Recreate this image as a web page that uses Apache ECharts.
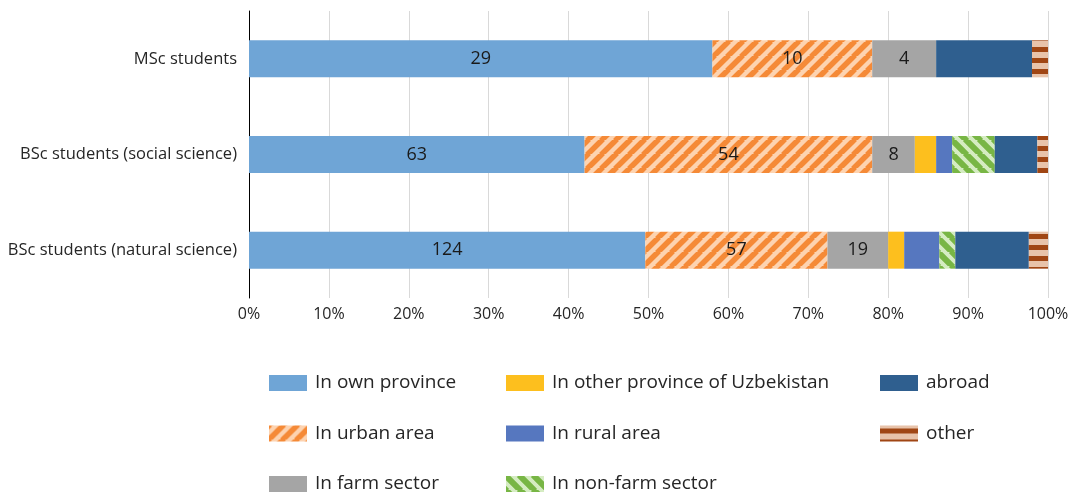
<!DOCTYPE html>
<html>
<head>
<meta charset="utf-8">
<script src="https://cdn.jsdelivr.net/npm/echarts@6/dist/echarts.min.js"></script>
<style>
  html, body { margin: 0; padding: 0; background: #fff; }
  #chart { width: 1080px; height: 495px; }
</style>
</head>
<body>
<div id="chart"></div>
<script>
// Student groups (top to bottom)
const categories = ['MSc students', 'BSc students (social science)', 'BSc students (natural science)'];

// Number of graduates per destination, one array per destination, in category order
const ownProvince   = [29, 63, 124];
const urbanArea     = [10, 54, 57];
const farmSector    = [4, 8, 19];
const otherProvince = [0, 4, 5];
const ruralArea     = [0, 3, 11];
const nonFarm       = [0, 8, 5];
const abroad        = [6, 8, 23];
const other         = [1, 2, 6];

const seriesNames = ['In own province', 'In urban area', 'In farm sector',
  'In other province of Uzbekistan', 'In rural area', 'In non-farm sector',
  'abroad', 'other'];

const percentTicks = [0, 10, 20, 30, 40, 50, 60, 70, 80, 90, 100];

const FONT = '"Open Sans", "Noto Sans", sans-serif';

// Striped fills drawn on small canvases
function diagonal(fg, bg, size, width, backslash) {
  const c = document.createElement('canvas');
  c.width = size; c.height = size;
  const ctx = c.getContext('2d');
  ctx.fillStyle = bg; ctx.fillRect(0, 0, size, size);
  ctx.strokeStyle = fg; ctx.lineWidth = width;
  ctx.beginPath();
  for (let k = -size; k <= size; k += size) {
    if (backslash) {
      ctx.moveTo(k - 1, -1); ctx.lineTo(k + size + 1, size + 1);
    } else {
      ctx.moveTo(k - 1, size + 1); ctx.lineTo(k + size + 1, -1);
    }
  }
  ctx.stroke();
  return { image: c, repeat: 'repeat' };
}
function horizontal(fg, bg, period, band) {
  const c = document.createElement('canvas');
  c.width = period; c.height = period;
  const ctx = c.getContext('2d');
  ctx.fillStyle = bg; ctx.fillRect(0, 0, period, period);
  ctx.fillStyle = fg; ctx.fillRect(0, 3, period, band);
  return { image: c, repeat: 'repeat' };
}

const fills = [
  '#6fa5d6',
  diagonal('#f58a37', '#fdd3b0', 14, 5.5, false),
  '#a5a5a5',
  '#fdbf1e',
  '#5677bf',
  diagonal('#78b645', '#d5ecc2', 14, 6, true),
  '#2f5f8f',
  horizontal('#a04614', '#e8c3aa', 11, 5)
];

const counts = [ownProvince, urbanArea, farmSector, otherProvince, ruralArea, nonFarm, abroad, other];
const totals = categories.map((_, i) => counts.reduce((s, arr) => s + arr[i], 0));
const labelled = [true, true, true, false, false, false, false, false];

const series = counts.map((arr, si) => ({
  name: seriesNames[si],
  type: 'bar',
  stack: 'share',
  barWidth: 37,
  itemStyle: { color: fills[si] },
  label: {
    show: labelled[si],
    position: 'inside',
    color: '#1a1a1a',
    fontFamily: FONT,
    fontSize: 18,
    formatter: p => p.data.count
  },
  emphasis: { disabled: true },
  data: arr.map((v, i) => ({ value: v / totals[i] * 100, count: v }))
}));

function legendColumn(left, names) {
  return {
    show: true,
    orient: 'vertical',
    left: left,
    top: 373,
    padding: 0,
    itemWidth: 38,
    itemHeight: 16,
    itemGap: 30.5,
    icon: 'rect',
    selectedMode: false,
    textStyle: { fontFamily: FONT, fontSize: 19, color: '#262626', lineHeight: 20, padding: [0, 0, 0, 3] },
    data: names
  };
}

const chart = echarts.init(document.getElementById('chart'));
chart.setOption({
  animation: false,
  backgroundColor: '#fff',
  grid: { left: 249, right: 32, top: 11, bottom: 197, containLabel: false },
  xAxis: {
    type: 'value',
    min: percentTicks[0],
    max: percentTicks[percentTicks.length - 1],
    interval: percentTicks[1] - percentTicks[0],
    axisLine: { show: false },
    axisTick: { show: false },
    splitLine: { show: true, lineStyle: { color: '#d9d9d9', width: 1 } },
    axisLabel: { formatter: '{value}%', fontFamily: FONT, fontSize: 16, color: '#262626', margin: 8 }
  },
  yAxis: {
    type: 'category',
    inverse: true,
    data: categories,
    axisLine: { show: true, lineStyle: { color: '#000', width: 1 } },
    axisTick: { show: false },
    axisLabel: { fontFamily: FONT, fontSize: 16.5, color: '#262626', margin: 12 }
  },
  legend: [
    legendColumn(269, seriesNames.slice(0, 3)),
    legendColumn(506, seriesNames.slice(3, 6)),
    legendColumn(880, seriesNames.slice(6, 8))
  ],
  series: series
});
</script>
</body>
</html>
